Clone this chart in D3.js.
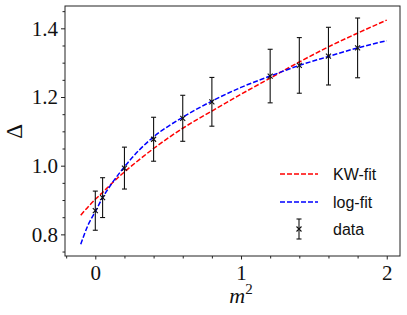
<!DOCTYPE html>
<meta charset="utf-8">
<head>
  <script src="https://d3js.org/d3.v7.min.js"></script>
  <style>
    body { margin: 0; background: #fff; }
    svg { display: block; }
  </style>
</head>
<body>
<div id="my_dataviz"></div>
<script>

// data points (m^2, Delta, error)
var m2 = [0, 0.05, 0.2, 0.4, 0.6, 0.8, 1.2, 1.4, 1.6, 1.8];
var delta = [0.869, 0.907, 0.993, 1.077, 1.138, 1.186, 1.261, 1.292, 1.319, 1.343];
var err = [0.057, 0.058, 0.061, 0.064, 0.067, 0.071, 0.078, 0.081, 0.084, 0.087];

// fit curves
var fitX = [-0.1, -0.05, 0, 0.05, 0.1, 0.2, 0.3, 0.4, 0.6, 0.8, 1.0, 1.2, 1.4, 1.6, 1.8, 2.0];
var kwFit = [0.856, 0.880, 0.902, 0.922, 0.943, 0.982, 1.017, 1.050, 1.109, 1.159, 1.208, 1.255, 1.302, 1.346, 1.386, 1.424];
var logFit = [0.771, 0.827, 0.866, 0.907, 0.940, 0.997, 1.045, 1.084, 1.141, 1.188, 1.228, 1.261, 1.292, 1.318, 1.343, 1.364];

var xMajor = [0, 1, 2];
var xMinor = [-0.2, 0.2, 0.4, 0.6, 0.8, 1.2, 1.4, 1.6, 1.8];
var yMajor = [0.8, 1.0, 1.2, 1.4];
var yMinor = [0.75, 0.85, 0.9, 0.95, 1.05, 1.1, 1.15, 1.25, 1.3, 1.35, 1.45];

var legendLabels = ["KW-fit", "log-fit", "data"];

var serif = "'Liberation Serif', 'Times New Roman', serif";

var margin = {top: 6, right: 7, bottom: 59, left: 65},
    width = 407 - margin.left - margin.right,
    height = 315 - margin.top - margin.bottom;

var svg = d3.select("#my_dataviz")
  .append("svg")
    .attr("width", 407)
    .attr("height", 315)
  .append("g")
    .attr("transform", "translate(" + margin.left + "," + margin.top + ")");

var x = d3.scaleLinear()
  .domain([-0.208, 2.091])
  .range([0, width]);

var y = d3.scaleLinear()
  .domain([0.737, 1.465])
  .range([height, 0]);

// X axis
svg.append("g")
  .attr("transform", "translate(0," + height + ")")
  .call(d3.axisBottom(x).tickValues(xMinor).tickSize(2.5).tickFormat(""))
  .call(function(g) { g.select(".domain").remove(); });
svg.append("g")
  .attr("transform", "translate(0," + height + ")")
  .call(d3.axisBottom(x).tickValues(xMajor).tickSize(3.5).tickPadding(6).tickFormat(d3.format("d")))
  .call(function(g) { g.select(".domain").remove(); })
  .selectAll("text")
    .style("font-family", serif)
    .style("font-size", "21px")
    .attr("fill", "#111");

// Y axis
svg.append("g")
  .call(d3.axisLeft(y).tickValues(yMinor).tickSize(2.5).tickFormat(""))
  .call(function(g) { g.select(".domain").remove(); });
svg.append("g")
  .call(d3.axisLeft(y).tickValues(yMajor).tickSize(4).tickPadding(3).tickFormat(d3.format(".1f")))
  .call(function(g) { g.select(".domain").remove(); })
  .selectAll("text")
    .style("font-family", serif)
    .style("font-size", "21px")
    .attr("fill", "#111");

svg.selectAll(".tick line").attr("stroke", "#222");

// frame
svg.append("rect")
  .attr("x", 0).attr("y", 0)
  .attr("width", width).attr("height", height)
  .attr("fill", "none")
  .attr("stroke", "#222")
  .attr("stroke-width", 1);

// axis labels
svg.append("text")
  .attr("x", x(1))
  .attr("y", height + 47)
  .attr("text-anchor", "middle")
  .attr("fill", "#111")
  .style("font-family", serif)
  .style("font-size", "22px")
  .html('<tspan font-style="italic">m</tspan><tspan dy="-9" font-size="15px">2</tspan>');

svg.append("text")
  .attr("transform", "translate(" + (-43) + "," + y(1.1) + ")rotate(-90)")
  .attr("text-anchor", "middle")
  .attr("fill", "#111")
  .style("font-family", serif)
  .style("font-size", "23px")
  .text("\u0394");

// fit lines
var line = d3.line()
  .x(function(d) { return x(d[0]); })
  .y(function(d) { return y(d[1]); })
  .curve(d3.curveMonotoneX);

svg.append("path")
  .datum(fitX.map(function(v, i) { return [v, kwFit[i]]; }))
  .attr("d", line)
  .attr("fill", "none")
  .attr("stroke", "#ff0000")
  .attr("stroke-width", 1.5)
  .attr("stroke-dasharray", "5,2");

svg.append("path")
  .datum(fitX.map(function(v, i) { return [v, logFit[i]]; }))
  .attr("d", line)
  .attr("fill", "none")
  .attr("stroke", "#0000ff")
  .attr("stroke-width", 1.5)
  .attr("stroke-dasharray", "5,2");

// error bars + x markers
function errorbar(g, cx, cy, top, bottom) {
  g.append("line").attr("x1", cx).attr("x2", cx).attr("y1", top).attr("y2", bottom);
  g.append("line").attr("x1", cx - 2.5).attr("x2", cx + 2.5).attr("y1", top).attr("y2", top);
  g.append("line").attr("x1", cx - 2.5).attr("x2", cx + 2.5).attr("y1", bottom).attr("y2", bottom);
  g.append("path").attr("d", "M" + (cx - 2.5) + "," + (cy - 2.5) + "L" + (cx + 2.5) + "," + (cy + 2.5) +
    "M" + (cx - 2.5) + "," + (cy + 2.5) + "L" + (cx + 2.5) + "," + (cy - 2.5));
}

var pts = svg.append("g")
  .attr("stroke", "#111")
  .attr("stroke-width", 1.1)
  .attr("fill", "none");

m2.forEach(function(v, i) {
  errorbar(pts, x(v), y(delta[i]), y(delta[i] + err[i]), y(delta[i] - err[i]));
});

// legend
var legend = svg.append("g");
var ly = [168, 196, 223];

legend.append("line")
  .attr("x1", 215).attr("x2", 253).attr("y1", ly[0]).attr("y2", ly[0])
  .attr("stroke", "#ff0000").attr("stroke-width", 1.5).attr("stroke-dasharray", "5,2");
legend.append("line")
  .attr("x1", 215).attr("x2", 253).attr("y1", ly[1]).attr("y2", ly[1])
  .attr("stroke", "#0000ff").attr("stroke-width", 1.5).attr("stroke-dasharray", "5,2");
var lg = legend.append("g").attr("stroke", "#111").attr("stroke-width", 1.1).attr("fill", "none");
errorbar(lg, 234, ly[2], ly[2] - 10, ly[2] + 10);

legend.selectAll("text.lab")
  .data(legendLabels)
  .enter()
  .append("text")
    .attr("x", 268)
    .attr("y", function(d, i) { return ly[i] + 6; })
    .style("font-family", "'Liberation Sans', sans-serif")
    .style("font-size", "16px")
    .attr("fill", "#111")
    .text(function(d) { return d; });

</script>
</body>
